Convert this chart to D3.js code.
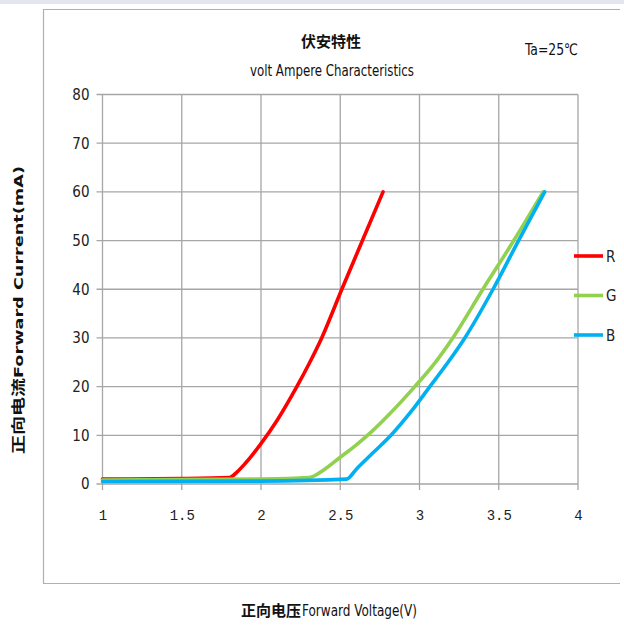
<!DOCTYPE html>
<html><head><meta charset="utf-8">
<script src="https://cdn.jsdelivr.net/npm/d3@7"></script>
<style>
html,body{margin:0;padding:0;background:#fff;}
svg{display:block;}
.narrow{font-family:"Liberation Sans Narrow","Arial Narrow","DejaVu Sans Condensed","Roboto Condensed",sans-serif;}
</style></head>
<body>
<svg id="c" width="624" height="626"></svg>
<script>
// ---- data ----
const xTicks = [1, 1.5, 2, 2.5, 3, 3.5, 4];
const xTickLabels = ["1", "1.5", "2", "2.5", "3", "3.5", "4"];
const yTicks = [0, 10, 20, 30, 40, 50, 60, 70, 80];
const seriesNames = ["R", "G", "B"];
const seriesColors = ["#ff0000", "#92d050", "#00b0f0"];
const redV = [1.0, 1.5, 1.8, 1.85, 1.9, 2.0, 2.1, 2.226, 2.3, 2.383, 2.51, 2.64, 2.77];
const redI = [1.0, 1.1, 1.3, 2.5, 4.2, 8.3, 13, 20, 24.5, 30, 40, 50, 60];
const greenV = [1.0, 2.0, 2.3, 2.4, 2.5, 2.6, 2.7, 2.8, 2.97, 3.1, 3.21, 3.40, 3.595, 3.78];
const greenI = [0.8, 1.0, 1.3, 3.0, 5.5, 8.0, 10.8, 14, 20, 25, 30, 40, 50, 60];
const blueV = [1.0, 2.0, 2.54, 2.6, 2.7, 2.82, 2.95, 3.065, 3.18, 3.286, 3.464, 3.625, 3.79];
const blueI = [0.5, 0.6, 1.0, 3.0, 6.2, 10, 15, 20, 25, 30, 40, 50, 60];
const titleCN = "伏安特性";
const titleEN = "volt Ampere Characteristics";
const tempNote = "Ta=25℃";
const yTitleCN = "正向电流";
const yTitleEN = "Forward Current(mA)";
const xTitleCN = "正向电压";
const xTitleEN = "Forward Voltage(V)";

const series = [
  {name: seriesNames[0], color: seriesColors[0], pts: redV.map((v,i)=>[v, redI[i]])},
  {name: seriesNames[1], color: seriesColors[1], pts: greenV.map((v,i)=>[v, greenI[i]])},
  {name: seriesNames[2], color: seriesColors[2], pts: blueV.map((v,i)=>[v, blueI[i]])}
];

const svg = d3.select("#c");
const grid = "#a6a6a6";

// top band and outer frame
svg.append("rect").attr("x",0).attr("y",0).attr("width",624).attr("height",4).attr("fill","#e3e7ed");
svg.append("path").attr("d","M620,9.5 H43.5 V583.5 H620").attr("fill","none").attr("stroke","#b0b0b0").attr("stroke-width",1.2);

const x = d3.scaleLinear().domain([1,4]).range([102.5, 578]);
const y = d3.scaleLinear().domain([0,80]).range([484, 94.5]);

// grid
const g = svg.append("g");
g.selectAll(".vg").data(xTicks).join("line")
  .attr("x1",d=>x(d)).attr("x2",d=>x(d)).attr("y1",y(80)).attr("y2",y(0)+6)
  .attr("stroke",grid).attr("stroke-width",1.3);
g.selectAll(".hg").data(yTicks).join("line")
  .attr("x1",x(1)-6).attr("x2",x(4)).attr("y1",d=>y(d)).attr("y2",d=>y(d))
  .attr("stroke",grid).attr("stroke-width",1.3);

// axes labels via d3 axes
const xAxis = svg.append("g").attr("transform",`translate(0,${y(0)})`)
  .call(d3.axisBottom(x).tickValues(xTicks).tickFormat((d,i)=>xTickLabels[i]).tickSize(0).tickPadding(26));
xAxis.select(".domain").remove();
xAxis.selectAll("text").attr("font-family","'Liberation Mono','DejaVu Sans Mono',monospace")
  .attr("font-size",14).attr("fill","#222");

const yAxis = svg.append("g").attr("transform",`translate(${x(1)},0)`)
  .call(d3.axisLeft(y).tickValues(yTicks).tickSize(0).tickPadding(13));
yAxis.select(".domain").remove();
yAxis.selectAll("text").attr("class","narrow").attr("font-size",15).attr("fill","#222");

// curves
const line = d3.line().x(d=>x(d[0])).y(d=>y(d[1])).curve(d3.curveMonotoneX);
svg.append("g").selectAll("path").data(series).join("path")
  .attr("d",d=>line(d.pts)).attr("fill","none").attr("stroke",d=>d.color)
  .attr("stroke-width",3.6).attr("stroke-linecap","round").attr("stroke-linejoin","round");

// legend
const legY = [256, 295.5, 335];
const lg = svg.append("g").selectAll("g").data(series).join("g")
  .attr("transform",(d,i)=>`translate(0,${legY[i]})`);
lg.append("line").attr("x1",574).attr("x2",603).attr("y1",0).attr("y2",0)
  .attr("stroke",d=>d.color).attr("stroke-width",3.6);
lg.append("text").attr("class","narrow").attr("x",606).attr("y",5.5)
  .attr("font-size",15).attr("fill","#222").text(d=>d.name);

// titles
svg.append("text").attr("x",331).attr("y",47).attr("text-anchor","middle")
  .attr("font-family","'Noto Sans CJK SC',sans-serif").attr("font-weight","bold")
  .attr("font-size",15).attr("fill","#111").text(titleCN);
svg.append("text").attr("class","narrow").attr("x",250).attr("y",76)
  .attr("textLength",164).attr("lengthAdjust","spacingAndGlyphs")
  .attr("font-size",16).attr("fill","#111").text(titleEN);
svg.append("text").attr("class","narrow").attr("x",525).attr("y",55)
  .attr("textLength",53).attr("lengthAdjust","spacingAndGlyphs")
  .attr("font-size",16).attr("fill","#111").text(tempNote);

// y title
const yt = svg.append("text").attr("transform","translate(23,310) rotate(-90)")
  .attr("text-anchor","middle").attr("font-weight","bold").attr("fill","#111")
  .attr("textLength",288).attr("lengthAdjust","spacingAndGlyphs");
yt.append("tspan").attr("font-family","'Noto Sans CJK SC',sans-serif").attr("font-size",14).text(yTitleCN);
yt.append("tspan").attr("font-family","'DejaVu Sans',sans-serif").attr("font-size",13).text(yTitleEN);

// x title
svg.append("text").attr("x",241).attr("y",616).attr("fill","#111")
  .attr("font-family","'Noto Sans CJK SC',sans-serif").attr("font-weight","bold").attr("font-size",15)
  .attr("textLength",60).attr("lengthAdjust","spacingAndGlyphs").text(xTitleCN);
svg.append("text").attr("class","narrow").attr("x",302).attr("y",616).attr("fill","#111")
  .attr("font-size",15.5).attr("textLength",115).attr("lengthAdjust","spacingAndGlyphs").text(xTitleEN);
</script>
</body></html>
